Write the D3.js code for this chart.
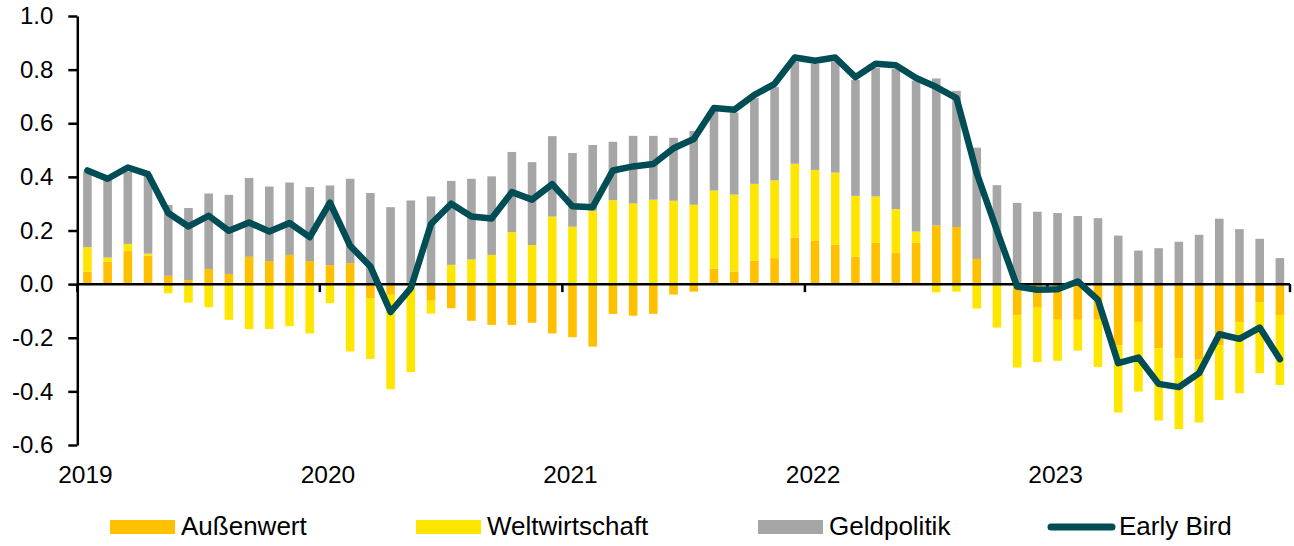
<!DOCTYPE html>
<html>
<head>
<meta charset="utf-8">
<script src="https://cdn.jsdelivr.net/npm/d3@7"></script>
<style>
  body { margin: 0; background: #fff; }
  svg text { font-family: "Liberation Sans", Arial, sans-serif; fill: #000; }
</style>
</head>
<body>
<svg width="1294" height="546"></svg>
<script>
// Monthly categories Jan 2019 - Dec 2023
var years = ["2019", "2020", "2021", "2022", "2023"];
var months = [];
years.forEach(function (yr) {
    for (var m = 1; m <= 12; m++) months.push(yr + "-" + (m < 10 ? "0" + m : m));
});

// Contributions
var aussenwert = [
    0.046, 0.083, 0.125, 0.107, 0.031, 0.015, 0.056, 0.038, 0.102, 0.086, 0.109, 0.086,
    0.071, 0.078, -0.054, -0.040, 0.005, -0.062, -0.090, -0.137, -0.152, -0.152, -0.144, -0.184,
    -0.198, -0.233, -0.111, -0.118, -0.111, -0.039, -0.028, 0.058, 0.047, 0.088, 0.097, 0.174,
    0.163, 0.147, 0.103, 0.154, 0.117, 0.155, 0.219, 0.213, 0.094, 0.003, -0.117, -0.088,
    -0.133, -0.133, -0.133, -0.229, -0.141, -0.239, -0.276, -0.282, -0.229, -0.142, -0.069, -0.115
];
var weltwirtschaft = [
    0.092, 0.016, 0.025, 0.007, -0.034, -0.069, -0.086, -0.133, -0.168, -0.167, -0.157, -0.184,
    -0.071, -0.251, -0.225, -0.352, -0.328, -0.048, 0.072, 0.092, 0.109, 0.194, 0.146, 0.252,
    0.214, 0.274, 0.313, 0.301, 0.315, 0.311, 0.296, 0.291, 0.287, 0.286, 0.290, 0.275,
    0.263, 0.269, 0.226, 0.173, 0.163, 0.041, -0.031, -0.028, -0.091, -0.162, -0.194, -0.203,
    -0.153, -0.115, -0.176, -0.250, -0.260, -0.270, -0.265, -0.234, -0.203, -0.265, -0.263, -0.261
];
var geldpolitik = [
    0.282, 0.290, 0.270, 0.294, 0.264, 0.269, 0.282, 0.295, 0.294, 0.278, 0.270, 0.276,
    0.297, 0.315, 0.340, 0.287, 0.307, 0.327, 0.313, 0.301, 0.293, 0.299, 0.309, 0.300,
    0.275, 0.245, 0.218, 0.252, 0.238, 0.235, 0.275, 0.300, 0.306, 0.320, 0.348, 0.381,
    0.395, 0.414, 0.433, 0.479, 0.522, 0.563, 0.548, 0.508, 0.415, 0.366, 0.303, 0.270,
    0.265, 0.254, 0.246, 0.181, 0.125, 0.134, 0.158, 0.184, 0.244, 0.205, 0.169, 0.097
];
var earlyBird = [
    0.424, 0.393, 0.435, 0.410, 0.265, 0.215, 0.255, 0.199, 0.230, 0.196, 0.228, 0.175,
    0.304, 0.143, 0.066, -0.104, -0.015, 0.224, 0.300, 0.252, 0.245, 0.343, 0.315, 0.373,
    0.290, 0.287, 0.424, 0.439, 0.448, 0.507, 0.541, 0.657, 0.650, 0.706, 0.747, 0.845,
    0.833, 0.845, 0.772, 0.822, 0.816, 0.769, 0.735, 0.694, 0.414, 0.200, -0.009, -0.021,
    -0.019, 0.010, -0.059, -0.295, -0.274, -0.372, -0.384, -0.332, -0.187, -0.204, -0.162, -0.280
];
var yTicks = [-0.6, -0.4, -0.2, 0.0, 0.2, 0.4, 0.6, 0.8, 1.0];

var seriesKeys = ["Außenwert", "Weltwirtschaft", "Geldpolitik"];
var colors = { "Außenwert": "#FFC000", "Weltwirtschaft": "#FFE600", "Geldpolitik": "#A6A6A6" };
var lineColor = "#004D55";

// build rows for the stack
var rows = months.map(function (m, i) {
    return { month: m, "Außenwert": aussenwert[i], "Weltwirtschaft": weltwirtschaft[i], "Geldpolitik": geldpolitik[i] };
});

var plot = { left: 77.3, right: 1290, top: 16, bottom: 445 };

var svg = d3.select("svg");

var x = d3.scaleBand()
    .domain(months)
    .range([plot.left, plot.right])
    .paddingInner(0.575)
    .paddingOuter(0.2875);

var y = d3.scaleLinear()
    .domain([-0.6, 1.0])
    .range([plot.bottom, plot.top]);

var stack = d3.stack()
    .keys(seriesKeys)
    .offset(d3.stackOffsetDiverging);
var stacked = stack(rows);

// bars
svg.append("g").selectAll("g")
    .data(stacked)
    .join("g")
    .attr("fill", function (d) { return colors[d.key]; })
    .selectAll("rect")
    .data(function (d) { return d; })
    .join("rect")
    .attr("x", function (d) { return x(d.data.month); })
    .attr("width", x.bandwidth())
    .attr("y", function (d) { return y(Math.max(d[0], d[1])); })
    .attr("height", function (d) { return Math.abs(y(d[0]) - y(d[1])); });

// y axis
var yAxis = svg.append("g")
    .attr("transform", "translate(" + plot.left + ",0)")
    .call(d3.axisLeft(y)
        .tickValues(yTicks)
        .tickFormat(function (d) { return d.toFixed(1); })
        .tickSize(9)
        .tickSizeOuter(0)
        .tickPadding(15));
yAxis.select(".domain").attr("stroke", "#000").attr("stroke-width", 2.5);
yAxis.selectAll(".tick line").attr("stroke", "#000").attr("stroke-width", 2.5);
yAxis.selectAll("text").style("font-size", "24px").attr("fill", "#000");

// x axis along zero
var y0 = y(0);
svg.append("line")
    .attr("x1", plot.left).attr("x2", plot.right)
    .attr("y1", y0).attr("y2", y0)
    .attr("stroke", "#000").attr("stroke-width", 2.5);

var step = x.step();
var yearStarts = months.filter(function (m, i) { return i % 12 === 0; });
var tickXs = yearStarts.map(function (m) { return x(m) + x.bandwidth() / 2 - step / 2; });
tickXs.push(plot.right);

svg.append("g").selectAll("line")
    .data(tickXs)
    .join("line")
    .attr("x1", function (d) { return d; })
    .attr("x2", function (d) { return d; })
    .attr("y1", y0)
    .attr("y2", y0 + 8)
    .attr("stroke", "#000")
    .attr("stroke-width", 2.5);

svg.append("g").selectAll("text")
    .data(yearStarts)
    .join("text")
    .attr("x", function (d) { return x(d) + x.bandwidth() / 2 - 2; })
    .attr("y", 483)
    .attr("text-anchor", "middle")
    .style("font-size", "24.5px")
    .text(function (d) { return d.slice(0, 4); });

// Early Bird line
var line = d3.line()
    .x(function (d, i) { return x(months[i]) + x.bandwidth() / 2; })
    .y(function (d) { return y(d); });

svg.append("path")
    .datum(earlyBird)
    .attr("fill", "none")
    .attr("stroke", lineColor)
    .attr("stroke-width", 6.5)
    .attr("stroke-linejoin", "round")
    .attr("stroke-linecap", "round")
    .attr("d", line);

// legend
var legendItems = [
    { name: "Außenwert", x: 110, type: "rect" },
    { name: "Weltwirtschaft", x: 416, type: "rect" },
    { name: "Geldpolitik", x: 758, type: "rect" },
    { name: "Early Bird", x: 1048, type: "line" }
];
var legend = svg.append("g");
legendItems.forEach(function (item) {
    if (item.type === "rect") {
        legend.append("rect")
            .attr("x", item.x).attr("y", 520)
            .attr("width", 65).attr("height", 14)
            .attr("fill", colors[item.name]);
    } else {
        legend.append("line")
            .attr("x1", item.x + 3).attr("x2", item.x + 64)
            .attr("y1", 527).attr("y2", 527)
            .attr("stroke", lineColor)
            .attr("stroke-width", 7)
            .attr("stroke-linecap", "round");
    }
    legend.append("text")
        .attr("x", item.x + 71)
        .attr("y", 535)
        .style("font-size", "26px")
        .text(item.name);
});
</script>
</body>
</html>
